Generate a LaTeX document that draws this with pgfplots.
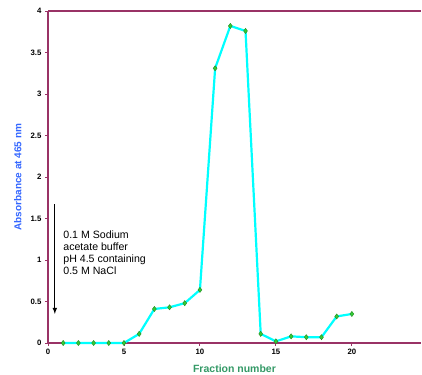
\documentclass[border=0pt]{standalone}
\usepackage{pgfplots}
\pgfplotsset{compat=1.18}
\usepackage{fontspec}
\setmainfont{Liberation Sans}
\definecolor{axpurple}{HTML}{993366}
\definecolor{lblblue}{HTML}{3366FF}
\definecolor{lblgreen}{HTML}{339966}
\definecolor{mkgreen}{HTML}{33CC33}
\definecolor{mkedge}{HTML}{228B22}
\definecolor{linecyan}{HTML}{00FFFF}
\begin{document}
\begin{tikzpicture}
\useasboundingbox (0,0) rectangle (422pt,374pt);
\begin{axis}[
  at={(48pt,31pt)}, anchor=south west,
  scale only axis, width=373pt, height=332pt,
  xmin=0, xmax=24.55, ymin=0, ymax=4,
  separate axis lines,
  axis x line=box, axis y line=left,
  axis line style={-, axpurple, line width=1.4pt},
  xtick={0,5,10,15,20}, ytick={0,0.5,1,1.5,2,2.5,3,3.5,4},
  xtick pos=bottom, ytick pos=left,
  tick align=outside, major tick length=3pt,
  tick style={axpurple, line width=0.9pt},
  /pgf/number format/assume math mode=true,
  ticklabel style={font=\fontsize{7.8}{9}\selectfont\bfseries},
  yticklabel style={/pgf/number format/fixed},
  xlabel={Fraction number}, ylabel={Absorbance at 465 nm},
  xlabel style={font=\fontsize{10.5}{12}\selectfont\bfseries, color=lblgreen, at={(axis description cs:0.5,0)}, anchor=north, yshift=-18pt},
  ylabel style={font=\fontsize{10}{12}\selectfont\bfseries, color=lblblue, at={(axis description cs:0,0.5)}, anchor=south, yshift=23pt},
  clip=false,
]
\addplot[color=linecyan, line width=2.2pt,
  mark=diamond*, mark size=2.6pt,
  mark options={fill=mkgreen, draw=mkedge, line width=0.4pt}]
coordinates {
(1,0) (2,0) (3,0) (4,0) (5,0) (6,0.11) (7,0.41) (8,0.43) (9,0.48) (10,0.64)
(11,3.31) (12,3.82) (13,3.76) (14,0.11) (15,0.02) (16,0.08) (17,0.07) (18,0.07)
(19,0.32) (20,0.35)
};
\draw[-latex, line width=1.1pt] (axis cs:0.45,1.67) -- (axis cs:0.45,0.35);
\node[anchor=north west, align=left, font=\fontsize{10.6}{12}\selectfont, inner sep=0pt] at (axis cs:1.0,1.35)
{0.1 M Sodium\\acetate buffer\\pH 4.5 containing\\0.5 M NaCl};
\end{axis}
\end{tikzpicture}
\end{document}
